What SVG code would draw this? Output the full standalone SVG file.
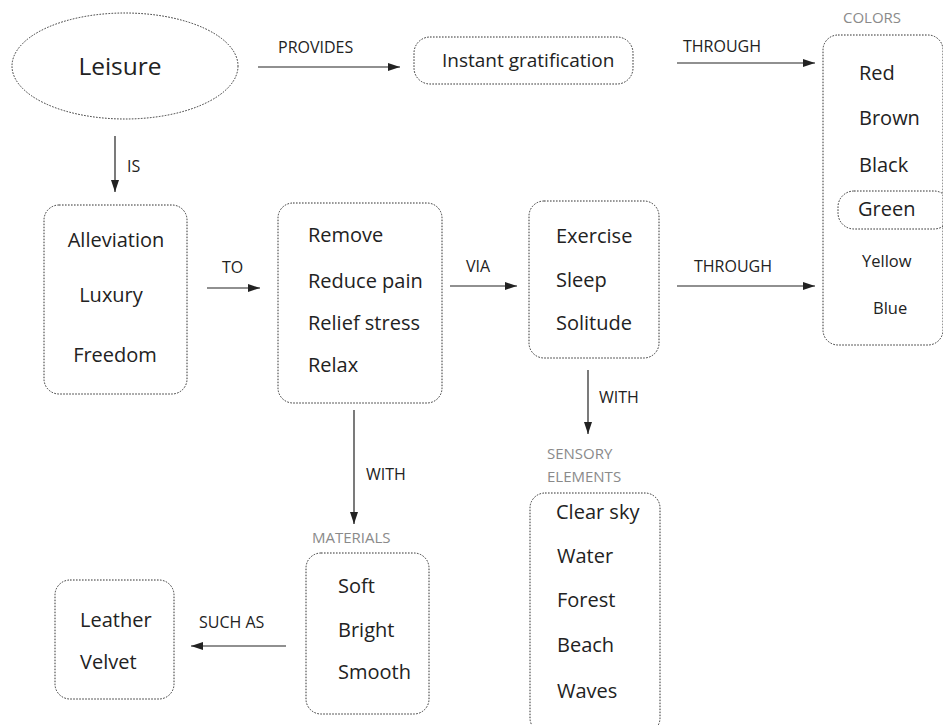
<svg xmlns="http://www.w3.org/2000/svg" width="943" height="725" viewBox="0 0 943 725">
  <style>
    .box { fill: none; stroke: #333; stroke-width: 1; stroke-dasharray: 1.6 1.4; }
    .txt { font-family: "Open Sans", "Liberation Sans", sans-serif; font-size: 20px; fill: #222; }
    .sm { font-size: 16.5px; }
    .lbl { font-family: "Open Sans", "Liberation Sans", sans-serif; font-size: 16px; fill: #222; }
    .cat { font-family: "Open Sans", "Liberation Sans", sans-serif; font-size: 15px; fill: #8a8a8a; }
    .edge { stroke: #222; stroke-width: 1.2; fill: none; marker-end: url(#arrow); }
  </style>
  <defs>
    <marker id="arrow" viewBox="0 0 12 8" refX="12" refY="4" markerWidth="12" markerHeight="8" markerUnits="userSpaceOnUse" orient="auto">
      <path d="M0,0 L12,4 L0,8 Z" fill="#222"/>
    </marker>
  </defs>
  <rect width="943" height="725" fill="#fff"/>

  <!-- connectors -->
  <g id="connectors">
    <line class="edge" x1="258" y1="67" x2="400" y2="67"/>
    <text class="lbl" x="278" y="53">PROVIDES</text>
    <line class="edge" x1="677" y1="63" x2="815" y2="63"/>
    <text class="lbl" x="683" y="52">THROUGH</text>
    <line class="edge" x1="115" y1="136" x2="115" y2="192"/>
    <text class="lbl" x="127" y="172">IS</text>
    <line class="edge" x1="207" y1="288" x2="260" y2="288"/>
    <text class="lbl" x="222" y="273">TO</text>
    <line class="edge" x1="450" y1="286" x2="517" y2="286"/>
    <text class="lbl" x="466" y="272">VIA</text>
    <line class="edge" x1="677" y1="286" x2="815" y2="286"/>
    <text class="lbl" x="694" y="272">THROUGH</text>
    <line class="edge" x1="354" y1="410" x2="354" y2="524"/>
    <text class="lbl" x="366" y="480">WITH</text>
    <line class="edge" x1="588" y1="370" x2="588" y2="434"/>
    <text class="lbl" x="599" y="403">WITH</text>
    <line class="edge" x1="286" y1="646" x2="191" y2="646"/>
    <text class="lbl" x="199" y="628">SUCH AS</text>
  </g>

  <!-- Leisure -->
  <g id="leisure">
    <ellipse class="box" cx="125" cy="66" rx="113" ry="53"/>
    <text class="txt" x="120" y="75" text-anchor="middle" style="font-size:24.5px">Leisure</text>
  </g>

  <!-- Instant gratification -->
  <g id="gratification">
    <rect class="box" x="414" y="37" width="219" height="47" rx="16"/>
    <text class="txt" x="442" y="67" style="font-size:19px">Instant gratification</text>
  </g>

  <!-- Colors -->
  <g id="colors">
    <text class="cat" x="843" y="23">COLORS</text>
    <rect class="box" x="823" y="35" width="120" height="310" rx="15"/>
    <text class="txt" x="859" y="80">Red</text>
    <text class="txt" x="859" y="125">Brown</text>
    <text class="txt" x="859" y="172">Black</text>
    <rect class="box" x="838" y="191" width="112" height="38" rx="16"/>
    <text class="txt" x="858" y="216">Green</text>
    <text class="txt sm" x="862" y="267">Yellow</text>
    <text class="txt sm" x="873" y="314">Blue</text>
  </g>

  <!-- Alleviation / Luxury / Freedom -->
  <g id="qualities">
    <rect class="box" x="44" y="205" width="143" height="189" rx="15"/>
    <text class="txt" x="116" y="247" text-anchor="middle">Alleviation</text>
    <text class="txt" x="111" y="302" text-anchor="middle">Luxury</text>
    <text class="txt" x="115" y="362" text-anchor="middle">Freedom</text>
  </g>

  <!-- Remove / Reduce pain / Relief stress / Relax -->
  <g id="purposes">
    <rect class="box" x="278" y="203" width="164" height="200" rx="15"/>
    <text class="txt" x="308" y="242">Remove</text>
    <text class="txt" x="308" y="288">Reduce pain</text>
    <text class="txt" x="308" y="330">Relief stress</text>
    <text class="txt" x="308" y="372">Relax</text>
  </g>

  <!-- Exercise / Sleep / Solitude -->
  <g id="activities">
    <rect class="box" x="529" y="201" width="130" height="157" rx="15"/>
    <text class="txt" x="556" y="243">Exercise</text>
    <text class="txt" x="556" y="287">Sleep</text>
    <text class="txt" x="556" y="330">Solitude</text>
  </g>

  <!-- Materials -->
  <g id="materials">
    <text class="cat" x="312" y="543">MATERIALS</text>
    <rect class="box" x="306" y="553" width="123" height="161" rx="15"/>
    <text class="txt" x="338" y="593">Soft</text>
    <text class="txt" x="338" y="637">Bright</text>
    <text class="txt" x="338" y="679">Smooth</text>
  </g>

  <!-- Leather / Velvet -->
  <g id="fabrics">
    <rect class="box" x="55" y="580" width="119" height="119" rx="15"/>
    <text class="txt" x="80" y="627">Leather</text>
    <text class="txt" x="80" y="669">Velvet</text>
  </g>

  <!-- Sensory elements -->
  <g id="sensory">
    <text class="cat" x="547" y="459">SENSORY</text>
    <text class="cat" x="547" y="482">ELEMENTS</text>
    <rect class="box" x="530" y="493" width="130" height="240" rx="15"/>
    <text class="txt" x="556" y="519">Clear sky</text>
    <text class="txt" x="557" y="563">Water</text>
    <text class="txt" x="557" y="607">Forest</text>
    <text class="txt" x="557" y="652">Beach</text>
    <text class="txt" x="557" y="698">Waves</text>
  </g>
</svg>
